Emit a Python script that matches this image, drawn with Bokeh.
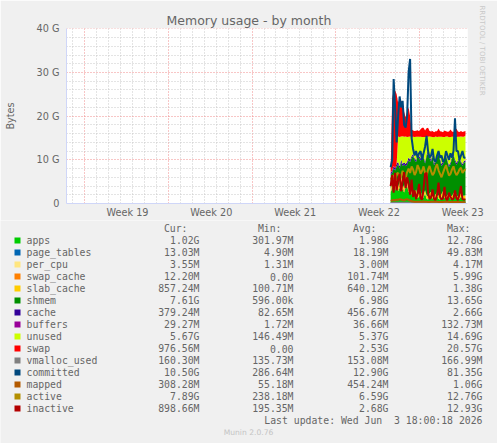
import numpy as np
from bokeh.plotting import figure
from bokeh.models import ColumnDataSource, Range1d, FixedTicker, Title
from bokeh.layouts import column
from bokeh.core.properties import value
from bokeh.embed import file_html
from bokeh.resources import INLINE

# ---------------- data (GB) ----------------
apps = [2.5, 3.5, 4.2, 3.0, 4.5, 2.8, 3.6, 4.8, 3.2, 2.5,
        3.8, 4.0, 2.6, 3.0, 2.2, 1.5, 1.8, 2.4, 1.2, 1.6,
        2.2, 1.0, 1.4, 2.3, 1.1, 0.9, 1.6, 2.0, 1.2, 0.8,
        1.5, 1.9, 1.1, 0.9, 1.4, 2.1, 1.3, 0.8, 1.2, 1.8,
        1.0, 0.9, 1.5, 2.0, 1.2, 0.8, 1.1, 1.6, 1.0, 0.9,
        1.02]
page_tables = [0.03, 0.04, 0.05, 0.04, 0.04, 0.03, 0.03, 0.04, 0.03, 0.03,
               0.03, 0.02, 0.02, 0.02, 0.02, 0.02, 0.02, 0.02, 0.02, 0.02,
               0.02, 0.02, 0.02, 0.02, 0.02, 0.02, 0.02, 0.015, 0.015, 0.015,
               0.015, 0.015, 0.015, 0.015, 0.015, 0.015, 0.015, 0.015, 0.015, 0.015,
               0.014, 0.014, 0.014, 0.014, 0.014, 0.013, 0.013, 0.013, 0.013, 0.013,
               0.013]
per_cpu = [0.003, 0.0035, 0.004, 0.0035, 0.003, 0.003, 0.0035, 0.004, 0.0035, 0.003,
           0.003, 0.0035, 0.003, 0.003, 0.0035, 0.003, 0.003, 0.0035, 0.003, 0.003,
           0.0035, 0.003, 0.003, 0.0035, 0.003, 0.003, 0.0035, 0.003, 0.003, 0.0035,
           0.003, 0.003, 0.0035, 0.003, 0.003, 0.0035, 0.003, 0.003, 0.0035, 0.003,
           0.003, 0.0035, 0.003, 0.003, 0.0035, 0.003, 0.003, 0.0035, 0.0035, 0.0035,
           0.0035]
swap_cache = [0.3, 0.6, 0.9, 0.5, 0.8, 0.4, 0.7, 1.0, 0.6, 0.5,
              0.8, 0.6, 0.4, 0.5, 0.2, 0.1, 0.08, 0.06, 0.05, 0.05,
              0.04, 0.04, 0.03, 0.03, 0.03, 0.02, 0.02, 0.02, 0.02, 0.02,
              0.02, 0.02, 0.02, 0.02, 0.02, 0.02, 0.02, 0.02, 0.02, 0.02,
              0.01, 0.01, 0.01, 0.01, 0.01, 0.01, 0.01, 0.01, 0.01, 0.01,
              0.012]
slab_cache = [0.5, 0.55, 0.6, 0.6, 0.65, 0.6, 0.62, 0.65, 0.6, 0.58,
              0.6, 0.62, 0.65, 0.6, 0.62, 0.64, 0.66, 0.7, 0.68, 0.66,
              0.64, 0.62, 0.65, 0.7, 0.72, 0.68, 0.66, 0.64, 0.62, 0.6,
              0.58, 0.62, 0.66, 0.7, 0.74, 0.72, 0.7, 0.68, 0.66, 0.7,
              0.74, 0.78, 0.8, 0.76, 0.72, 0.7, 0.74, 0.78, 0.82, 0.84,
              0.857]
shmem = [3.2, 2.3, 2.3, 3.4, 2.5, 5.2, 3.0, 3.0, 4.1, 5.4,
         3.3, 3.7, 6.3, 5.4, 7.4, 8.7, 7.4, 6.3, 9.0, 8.1,
         6.9, 9.5, 8.4, 6.1, 8.9, 10.0, 8.1, 6.9, 9.0, 7.3,
         7.3, 8.0, 9.6, 8.2, 6.4, 6.2, 8.1, 9.5, 7.6, 5.8,
         7.2, 8.6, 8.7, 6.9, 6.9, 8.0, 8.6, 6.9, 6.8, 7.6,
         7.61]
cache = [0.45, 0.5, 0.55, 0.5, 0.6, 0.5, 0.55, 0.6, 0.5, 0.45,
         0.5, 0.55, 0.6, 0.5, 0.45, 0.4, 0.42, 0.45, 0.48, 0.5,
         0.46, 0.44, 0.42, 0.45, 0.5, 0.52, 0.48, 0.46, 0.44, 0.42,
         0.4, 0.43, 0.46, 0.5, 0.48, 0.45, 0.43, 0.41, 0.4, 0.42,
         0.45, 0.47, 0.5, 0.48, 0.45, 0.42, 0.4, 0.39, 0.38, 0.38,
         0.379]
buffers = [0.03, 0.04, 0.05, 0.04, 0.03, 0.03, 0.04, 0.05, 0.04, 0.03,
           0.03, 0.04, 0.03, 0.03, 0.03, 0.03, 0.03, 0.03, 0.03, 0.03,
           0.03, 0.03, 0.03, 0.03, 0.03, 0.03, 0.03, 0.03, 0.03, 0.03,
           0.03, 0.03, 0.03, 0.03, 0.03, 0.03, 0.03, 0.03, 0.03, 0.03,
           0.03, 0.03, 0.03, 0.03, 0.03, 0.03, 0.03, 0.03, 0.03, 0.03,
           0.029]
unused = [0.0, 0.0, 0.0, 0.0, 0.0, 5.8, 6.7, 5.2, 6.3, 5.8,
          6.3, 5.7, 4.7, 5.3, 4.3, 3.9, 4.8, 5.3, 3.8, 4.3,
          5.0, 3.6, 4.3, 5.6, 4.0, 3.1, 4.4, 5.2, 3.9, 6.0,
          5.5, 4.2, 3.4, 4.9, 6.2, 5.7, 4.6, 3.9, 5.4, 6.4,
          5.8, 4.5, 3.7, 5.1, 5.9, 5.3, 4.4, 5.6, 6.2, 5.5,
          5.67]
swap = [1.0, 16.5, 17.2, 17.8, 15.9, 7.7, 8.7, 8.2, 7.7, 5.7,
        4.4, 5.7, 6.7, 4.7, 1.7, 1.4, 1.4, 1.4, 1.5, 1.3,
        1.7, 2.1, 2.1, 1.5, 1.9, 2.1, 1.3, 1.2, 1.4, 1.1,
        1.2, 1.3, 1.9, 1.3, 1.2, 1.1, 1.5, 1.2, 1.1, 1.3,
        1.7, 1.2, 1.1, 1.5, 1.9, 1.2, 1.1, 1.3, 1.1, 1.2,
        0.98]
vmalloc_used = [0.14, 0.14, 0.15, 0.15, 0.15, 0.15, 0.15, 0.15, 0.15, 0.15,
                0.15, 0.15, 0.15, 0.15, 0.15, 0.15, 0.15, 0.15, 0.15, 0.15,
                0.15, 0.15, 0.15, 0.15, 0.15, 0.155, 0.155, 0.155, 0.155, 0.155,
                0.155, 0.155, 0.155, 0.155, 0.155, 0.16, 0.16, 0.16, 0.16, 0.16,
                0.16, 0.16, 0.16, 0.16, 0.16, 0.16, 0.16, 0.16, 0.16, 0.16,
                0.16]
committed = [8.3, 10.0, 28.5, 22.0, 14.0, 20.0, 24.5, 22.0, 23.5, 18.0,
             17.4, 20.0, 30.0, 33.1, 15.0, 12.5, 11.0, 12.0, 10.5, 11.5,
             12.0, 10.0, 11.5, 13.0, 15.5, 12.0, 10.5, 11.0, 12.5, 10.0,
             9.5, 11.0, 12.0, 10.5, 11.0, 9.5, 10.0, 12.0, 11.0, 10.0,
             11.5, 10.5, 12.0, 19.5, 12.0, 12.0, 10.0, 11.0, 12.0, 10.5,
             10.5]
mapped = [0.6, 0.7, 0.8, 0.7, 0.9, 0.8, 1.0, 0.9, 0.8, 0.7,
          0.9, 1.0, 0.8, 0.7, 0.5, 0.45, 0.4, 0.42, 0.4, 0.38,
          0.4, 0.42, 0.45, 0.4, 0.38, 0.36, 0.35, 0.38, 0.4, 0.42,
          0.4, 0.38, 0.36, 0.35, 0.34, 0.36, 0.38, 0.4, 0.38, 0.36,
          0.35, 0.34, 0.33, 0.32, 0.33, 0.34, 0.32, 0.31, 0.31, 0.31,
          0.308]
active = [5.5, 6.0, 6.5, 5.0, 6.8, 7.0, 5.5, 6.2, 7.5, 6.0,
          5.8, 7.2, 8.0, 7.0, 8.5, 7.8, 6.5, 7.2, 8.8, 8.0,
          6.8, 7.5, 8.5, 7.0, 6.2, 7.8, 8.6, 7.4, 6.5, 7.0,
          8.2, 9.0, 7.6, 6.8, 6.0, 7.0, 8.0, 8.8, 7.5, 6.4,
          6.8, 7.8, 8.5, 7.2, 6.5, 7.0, 7.8, 8.2, 7.0, 7.5,
          7.89]
inactive = [4.0, 6.5, 2.5, 7.0, 3.0, 5.5, 6.8, 2.8, 5.0, 7.2,
            3.5, 6.0, 4.5, 2.0, 5.5, 1.5, 3.0, 1.0, 2.2, 4.5,
            1.2, 0.9, 3.5, 6.8, 7.0, 2.5, 1.0, 1.4, 3.2, 1.0,
            0.8, 2.0, 4.8, 1.5, 0.9, 1.2, 3.8, 1.0, 0.8, 2.5,
            1.5, 0.9, 1.1, 3.0, 1.2, 0.8, 2.2, 4.0, 1.0, 0.9,
            0.9]

# sample times in days since the left edge of the month window (3 h steps)
t = 27.08 + 0.125 * np.arange(len(apps))

week_labels = ["Week 19", "Week 20", "Week 21", "Week 22", "Week 23"]
week_label_pos = [5.1, 12.1, 19.1, 26.1, 33.1]
week_bounds = [1.5, 8.5, 15.5, 22.5, 29.5]
y_ticks = [0, 10, 20, 30, 40]
y_tick_labels = ["0", "10 G", "20 G", "30 G", "40 G"]

names = ["apps", "page_tables", "per_cpu", "swap_cache", "slab_cache", "shmem", "cache",
         "buffers", "unused", "swap", "vmalloc_used", "committed", "mapped", "active", "inactive"]
colors = ["#00CC00", "#0066B3", "#FFE680", "#FF8000", "#FFCC00", "#008F00", "#330099",
          "#990099", "#CCFF00", "#FF0000", "#808080", "#00487D", "#B35A00", "#B38F00", "#B30000"]
cur_vals = ["1.02G", "13.03M", "3.55M", "12.20M", "857.24M", "7.61G", "379.24M", "29.27M",
            "5.67G", "976.56M", "160.30M", "10.50G", "308.28M", "7.89G", "898.66M"]
min_vals = ["301.97M", "4.90M", "1.31M", "0.00", "100.71M", "596.00k", "82.65M", "1.72M",
            "146.49M", "0.00", "135.73M", "286.64M", "55.18M", "238.18M", "195.35M"]
avg_vals = ["1.98G", "18.19M", "3.00M", "101.74M", "640.12M", "6.98G", "456.67M", "36.66M",
            "5.37G", "2.53G", "153.08M", "12.90G", "454.24M", "6.59G", "2.68G"]
max_vals = ["12.78G", "49.83M", "4.17M", "5.99G", "1.38G", "13.65G", "2.66G", "132.73M",
            "14.69G", "20.57G", "166.99M", "81.35G", "1.06G", "12.76G", "12.93G"]
headers = ["Cur:", "Min:", "Avg:", "Max:"]
last_update = "Last update: Wed Jun \u00a03 18:00:18 2026"
version = "Munin 2.0.76"

series = dict(apps=apps, page_tables=page_tables, per_cpu=per_cpu, swap_cache=swap_cache,
              slab_cache=slab_cache, shmem=shmem, cache=cache, buffers=buffers, unused=unused,
              swap=swap, vmalloc_used=vmalloc_used, committed=committed, mapped=mapped,
              active=active, inactive=inactive)
src = ColumnDataSource(dict(t=t, **series))

FONT = "#666666"
BG = "#f0f0f0"
AXIS = "#cfd6f8"

TOP_H = 220
FL, FR, FT, FB = 66, 468, 28, 203
p = figure(width=497, height=TOP_H, x_range=Range1d(0, 33.5), y_range=Range1d(0, 40.07),
           output_backend="svg", toolbar_location=None, title=None,
           min_border_left=FL, min_border_right=497 - FR, min_border_top=FT,
           min_border_bottom=TOP_H - FB,
           background_fill_color="white", border_fill_color=BG, outline_line_color=None)
p.frame_align = False

p.varea_stack(stackers=names[:10], x="t", color=colors[:10], source=src)
for nm, col in zip(names[10:], colors[10:]):
    p.line("t", nm, source=src, line_color=col, line_width=2)

# axes
p.xaxis.ticker = FixedTicker(ticks=week_label_pos)
p.xaxis.major_label_overrides = {k: v for k, v in zip(week_label_pos, week_labels)}
p.yaxis.ticker = FixedTicker(ticks=y_ticks)
p.yaxis.major_label_overrides = {k: v for k, v in zip(y_ticks, y_tick_labels)}
for ax in (p.xaxis[0], p.yaxis[0]):
    ax.major_tick_line_color = None
    ax.minor_tick_line_color = None
    ax.major_tick_out = 0
    ax.minor_tick_out = 0
    ax.major_tick_in = 0
    ax.minor_tick_in = 0
    ax.axis_line_color = AXIS
    ax.major_label_text_font = "DejaVu Sans"
    ax.major_label_text_font_size = "9.7px"
    ax.major_label_text_color = FONT
p.xaxis.major_label_standoff = 3
p.yaxis.major_label_standoff = 7
p.yaxis.axis_label = "Bytes"
p.yaxis.axis_label_text_font = "DejaVu Sans"
p.yaxis.axis_label_text_font_size = "9.7px"
p.yaxis.axis_label_text_font_style = "normal"
p.yaxis.axis_label_text_color = FONT
p.yaxis.axis_label_standoff = 18

# grids
day_lines = [d + 0.5 for d in range(34) if (d + 0.5) not in week_bounds]
p.xgrid.ticker = FixedTicker(ticks=week_bounds, minor_ticks=day_lines)
minor_y = [v for v in range(0, 41, 2) if v % 10 != 0]
p.ygrid.ticker = FixedTicker(ticks=y_ticks, minor_ticks=minor_y)
for g in (p.xgrid[0], p.ygrid[0]):
    g.grid_line_color = "#f08c8c"
    g.grid_line_dash = "1 2"
    g.minor_grid_line_color = "#c8c8c8"
    g.minor_grid_line_dash = "1 2"

# title and watermark
p.add_layout(Title(text="Memory usage - by month", align="left", offset=100, standoff=2,
                   text_font="DejaVu Sans", text_font_size="12.5px",
                   text_font_style="normal", text_color=FONT), "above")
p.add_layout(Title(text="RRDTOOL / TOBI OETIKER", align="left", offset=-23, standoff=20,
                   text_font="DejaVu Sans", text_font_size="7px",
                   text_font_style="normal", text_color="#c8c8c8"), "right")

# ---------------- legend panel (pixel coordinates) ----------------
LEG_H = 443 - TOP_H
p2 = figure(width=497, height=LEG_H, x_range=Range1d(0, 497), y_range=Range1d(LEG_H, 0),
            output_backend="svg", toolbar_location=None, title=None,
            min_border=0, min_border_left=0, min_border_right=0, min_border_top=0,
            min_border_bottom=0, x_axis_type=None, y_axis_type=None,
            background_fill_color=BG, border_fill_color=BG, outline_line_color=None)
p2.frame_align = False
p2.grid.visible = False

def cy(py):
    return py - TOP_H

rows = [cy(240 + 12 * k) for k in range(len(names))]
mono = value("DejaVu Sans Mono")
fs = "9.8px"

p2.quad(left=[14] * len(rows), right=[20] * len(rows),
        top=[r - 3 for r in rows], bottom=[r + 3 for r in rows],
        fill_color=colors, line_color=None)
p2.text(x=[26] * len(rows), y=rows, text=names, text_font=mono, text_font_size=fs,
        text_align="left", text_baseline="middle", text_color=FONT)
col_right = [199, 293, 388, 482]
for xr, vals, hdr in zip(col_right, [cur_vals, min_vals, avg_vals, max_vals], headers):
    p2.text(x=[xr] * len(rows), y=rows, text=vals, text_font=mono, text_font_size=fs,
            text_align="right", text_baseline="middle", text_color=FONT)
    p2.text(x=[xr - 12], y=[cy(228)], text=[hdr], text_font=mono, text_font_size=fs,
            text_align="right", text_baseline="middle", text_color=FONT)
p2.text(x=[482], y=[cy(420)], text=[last_update], text_font=mono,
        text_font_size=fs, text_align="right", text_baseline="middle", text_color=FONT)
p2.text(x=[248], y=[cy(432)], text=[version], text_font=value("DejaVu Sans"),
        text_font_size="7.6px", text_align="center", text_baseline="middle",
        text_color="#c4c4c4")

layout = column(p, p2, spacing=0)
open("out.html", "w").write(file_html(layout, INLINE))
